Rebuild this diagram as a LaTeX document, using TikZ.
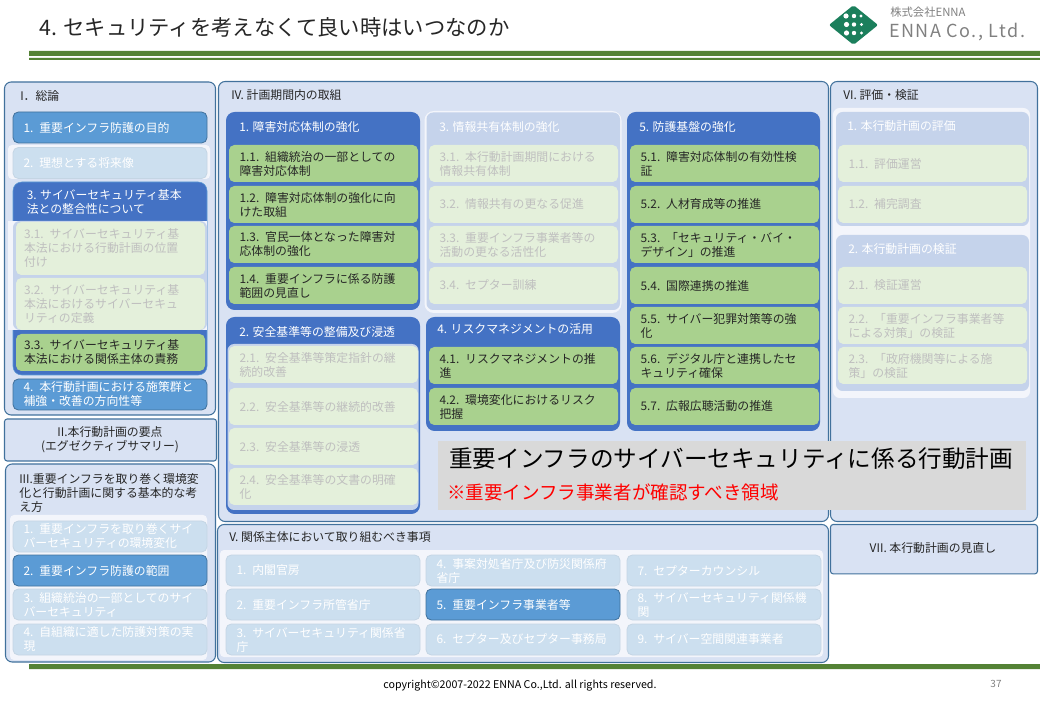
\documentclass[tikz,border=0pt]{standalone}
\usepackage{fontspec}
\setmainfont{Noto Sans CJK JP}
\usetikzlibrary{shapes.geometric}
\definecolor{panelfill}{HTML}{D9E2F3}
\definecolor{panelline}{HTML}{41719C}
\definecolor{midblue}{HTML}{5B9BD5}
\definecolor{fadeblue}{HTML}{CCDFEF}
\definecolor{darkblue}{HTML}{4472C4}
\definecolor{washblue}{HTML}{C5D3EB}
\definecolor{leafgreen}{HTML}{A9D18E}
\definecolor{fadegreen}{HTML}{E4F0DB}
\definecolor{band}{HTML}{F3F5FB}
\definecolor{fadetext}{HTML}{BFBFBF}
\definecolor{rulegreen}{HTML}{548235}
\definecolor{logogreen}{HTML}{1B7F5C}
\tikzset{
  txt/.style={font=\fontsize{8.9}{10.5}\selectfont,align=left,text=black!85},
  panel/.style={anchor=north west,outer sep=0pt,fill=panelfill,draw=panelline,line width=.8pt,rounded corners=5pt},
  head/.style={anchor=west,txt,inner sep=0pt},
  bandbox/.style={fill=band,rounded corners=3pt},
  group/.style={fill=darkblue,rounded corners=6.5pt},
  wash/.style={fill=washblue,rounded corners=5pt},
  item/.style={anchor=north west,outer sep=0pt,txt,rounded corners=4pt,inner sep=0pt,inner xsep=7.9pt,minimum height=27.75pt},
  green/.style={item,fill=leafgreen,text width=125.95pt,minimum height=27.75pt},
  palegreen/.style={green,fill=fadegreen,text=fadetext},
  blue/.style={item,fill=midblue,draw=panelline,line width=.6pt,text=white,text width=129.7pt,minimum height=23.25pt},
  paleblue/.style={blue,fill=fadeblue,draw=fadeblue!90!gray,text=white},
}
\begin{document}
\begin{tikzpicture}[x=.75pt,y=-.75pt]
\useasboundingbox (0,0) rectangle (1040,720);
% title and rules
\node[anchor=west,inner sep=0pt,text=black!85,font=\fontsize{16}{18}\selectfont] (title) at (39,27) {4. セキュリティを考えなくて良い時はいつなのか};
\fill[rulegreen] (29,51) rectangle (1040,56) (29,58) rectangle (1040,60) (29,664) rectangle (1040,669);
\node[inner sep=0pt,font=\fontsize{8}{9}\selectfont] (copyr) at (520,686) {copyright©2007-2022 ENNA Co.,Ltd. all rights reserved.};
\node[inner sep=0pt,text=gray,font=\fontsize{7.5}{9}\selectfont] (pageno) at (996,684) {37};
% logo
\node[diamond,fill=logogreen,minimum width=37pt,minimum height=30pt,inner sep=0pt,rounded corners=1.5pt] (logo) at (853.5,25) {};
\foreach \x/\y/\r in {846/16/2.6,854/16/2.2,861/16/1.7,846.5/24.5/2.6,854/24.5/2.2,861.5/24.5/1.7,846.5/33/2.6,854/33/2.2,861.5/33/1.7} {
  \fill[white] (\x,\y) circle (\r);
}
\node[anchor=west,inner sep=0pt,text=gray,font=\fontsize{8.5}{10}\selectfont] (kabu) at (890,12) {株式会社ENNA};
\node[anchor=west,inner sep=0pt,text=gray,font=\fontsize{13.5}{16}\selectfont\addfontfeature{LetterSpace=8}] (enna) at (889,32) {ENNA Co., Ltd.};
% panels
\node[panel,minimum width=158.25pt,minimum height=249.75pt] (pI) at (4.5,82) {};
\node[panel,minimum width=159pt,minimum height=31.5pt,rounded corners=2pt] (pII) at (4.5,419) {};
\node[panel,minimum width=157.5pt,minimum height=148.5pt] (pIII) at (5.5,464) {};
\node[panel,minimum width=457.5pt,minimum height=330pt] (pIV) at (218.5,81.5) {};
\node[panel,minimum width=458.25pt,minimum height=103.5pt] (pV) at (217.5,524.5) {};
\node[panel,minimum width=155.25pt,minimum height=330pt] (pVI) at (830.5,81.5) {};
\node[panel,minimum width=155.25pt,minimum height=37pt,rounded corners=2pt] (pVII) at (830.5,524.5) {};
\node[head] (hI) at (20,96) {I．総論};
\node[txt,inner sep=0pt,align=center] (hII) at (110,439.5) {II.本行動計画の要点\\(エグゼクティブサマリー)};
\node[head,anchor=north west] (hIII) at (19,473.5) {III.重要インフラを取り巻く環境変\\化と行動計画に関する基本的な考\\え方};
\node[head] (hIV) at (231,95) {IV. 計画期間内の取組};
\node[head] (hV) at (229,537) {V. 関係主体において取り組むべき事項};
\node[head] (hVI) at (843,95) {VI. 評価・検証};
\node[txt,inner sep=0pt] (hVII) at (933,548) {VII. 本行動計画の見直し};
% I
\fill[bandbox] (8,145) rectangle (210,179);
\node[blue] (i1) at (13,112) {1. 重要インフラ防護の目的};
\node[paleblue] (i2) at (13,147.5) {2. 理想とする将来像};
\fill[group,draw=midblue] (13,182) rectangle (207,375);
\node[head,text=white] (i3) at (26.5,202) {3. サイバーセキュリティ基本\\法との整合性について};
\fill[band] (8,221) rectangle (207,330);
\fill[wash] (13,221) rectangle (207,330);
\node[palegreen,inner xsep=6pt,text width=129.75pt,minimum height=39.75pt] (i31) at (16,222) {3.1. サイバーセキュリティ基\\本法における行動計画の位置\\付け};
\node[palegreen,inner xsep=6pt,text width=129.75pt,minimum height=39pt] (i32) at (16,278) {3.2. サイバーセキュリティ基\\本法におけるサイバーセキュ\\リティの定義};
\node[green,inner xsep=6pt,text width=129.75pt] (i33) at (16,334) {3.3. サイバーセキュリティ基\\本法における関係主体の責務};
\node[blue] (i4) at (13,379) {4. 本行動計画における施策群と\\補強・改善の方向性等};
% III
\fill[bandbox] (10,515) rectangle (207,660);
\foreach \n/\y/\t in {1/521/{1. 重要インフラを取り巻くサイ\\バーセキュリティの環境変化},3/589/{3. 組織統治の一部としてのサイ\\バーセキュリティ},4/624/{4. 自組織に適した防護対策の実\\現}} {
  \node[paleblue] (iii\n) at (13,\y) {\t};
}
\node[blue] (iii2) at (13,555) {2. 重要インフラ防護の範囲};
% IV, green columns
\fill[group] (226,112) rectangle (420,310);
\node[head,text=white] (g1) at (239,127) {1. 障害対応体制の強化};
\foreach \n/\y/\t in {1/145/{1.1. 組織統治の一部としての\\障害対応体制},2/186/{1.2. 障害対応体制の強化に向\\けた取組},3/226/{1.3. 官民一体となった障害対\\応体制の強化},4/267/{1.4. 重要インフラに係る防護\\範囲の見直し}} {
  \node[green] (g1\n) at (229,\y) {\t};
}
\fill[group] (226,317) rectangle (420,514);
\fill[wash] (227.5,344) rectangle (418.5,510);
\node[head,text=white] (g2) at (239,332) {2. 安全基準等の整備及び浸透};
\foreach \n/\y/\t in {1/346/{2.1. 安全基準等策定指針の継\\続的改善},2/388/{2.2. 安全基準等の継続的改善},3/428/{2.3. 安全基準等の浸透},4/468/{2.4. 安全基準等の文書の明確\\化}} {
  \node[palegreen] (g2\n) at (229,\y) {\t};
}
\fill[band,rounded corners=7pt] (424.5,111) rectangle (621.5,313);
\fill[wash] (426.5,112.5) rectangle (620,310);
\node[head,text=white] (g3) at (439,127) {3. 情報共有体制の強化};
\foreach \n/\y/\t in {1/145/{3.1. 本行動計画期間における\\情報共有体制},2/186/{3.2. 情報共有の更なる促進},3/226/{3.3. 重要インフラ事業者等の\\活動の更なる活性化},4/267/{3.4. セプター訓練}} {
  \node[palegreen] (g3\n) at (429,\y) {\t};
}
\fill[group] (426,317) rectangle (620,431);
\node[head,text=white] (g4) at (437,329) {4. リスクマネジメントの活用};
\foreach \n/\y/\t in {1/347/{4.1. リスクマネジメントの推\\進},2/388/{4.2. 環境変化におけるリスク\\把握}} {
  \node[green] (g4\n) at (429,\y) {\t};
}
\fill[group] (627,112) rectangle (820,431);
\node[head,text=white] (g5) at (639,127) {5. 防護基盤の強化};
\foreach \n/\y/\t in {1/145/{5.1. 障害対応体制の有効性検\\証},2/186/{5.2. 人材育成等の推進},3/226/{5.3. 「セキュリティ・バイ・\\デザイン」の推進},4/267/{5.4. 国際連携の推進},5/307/{5.5. サイバー犯罪対策等の強\\化},6/347/{5.6. デジタル庁と連携したセ\\キュリティ確保},7/388/{5.7. 広報広聴活動の推進}} {
  \node[green] (g5\n) at (630,\y) {\t};
}
% V
\fill[bandbox] (220,550) rectangle (823,657);
\foreach \x/\n/\y/\t in {226/1/555/{1. 内閣官房},226/2/589/{2. 重要インフラ所管省庁},226/3/624/{3. サイバーセキュリティ関係省\\庁},426/4/555/{4. 事案対処省庁及び防災関係府\\省庁},426/6/624/{6. セプター及びセプター事務局},627/7/555/{7. セプターカウンシル},627/8/589/{8. サイバーセキュリティ関係機\\関},627/9/624/{9. サイバー空間関連事業者}} {
  \node[paleblue] (v\n) at (\x,\y) {\t};
}
\node[blue] (v5) at (426,589) {5. 重要インフラ事業者等};
% VI
\fill[bandbox,rounded corners=5pt] (833,108) rectangle (1030,398);
\fill[wash] (836,112) rectangle (1029,226);
\fill[wash] (836,235) rectangle (1029,391);
\node[head,text=white] (e1) at (847,126) {1. 本行動計画の評価};
\node[head,text=white] (e2) at (848,249) {2. 本行動計画の検証};
\foreach \n/\y/\t in {11/145/{1.1. 評価運営},12/186/{1.2. 補完調査},21/267/{2.1. 検証運営},22/307/{2.2. 「重要インフラ事業者等\\による対策」の検証},23/347/{2.3. 「政府機関等による施\\策」の検証}} {
  \node[palegreen] (e\n) at (838,\y) {\t};
}
% caption box
\node[anchor=north west,outer sep=0pt,fill=black!15,minimum width=441pt,minimum height=51.75pt] (capbox) at (438,441) {};
\node[anchor=west,inner sep=0pt,font=\fontsize{17.7}{20}\selectfont] (cap1) at (449,459) {重要インフラのサイバーセキュリティに係る行動計画};
\node[anchor=west,inner sep=0pt,text=red,font=\fontsize{13.9}{16}\selectfont] (cap2) at (447,492) {※重要インフラ事業者が確認すべき領域};
\end{tikzpicture}
\end{document}
